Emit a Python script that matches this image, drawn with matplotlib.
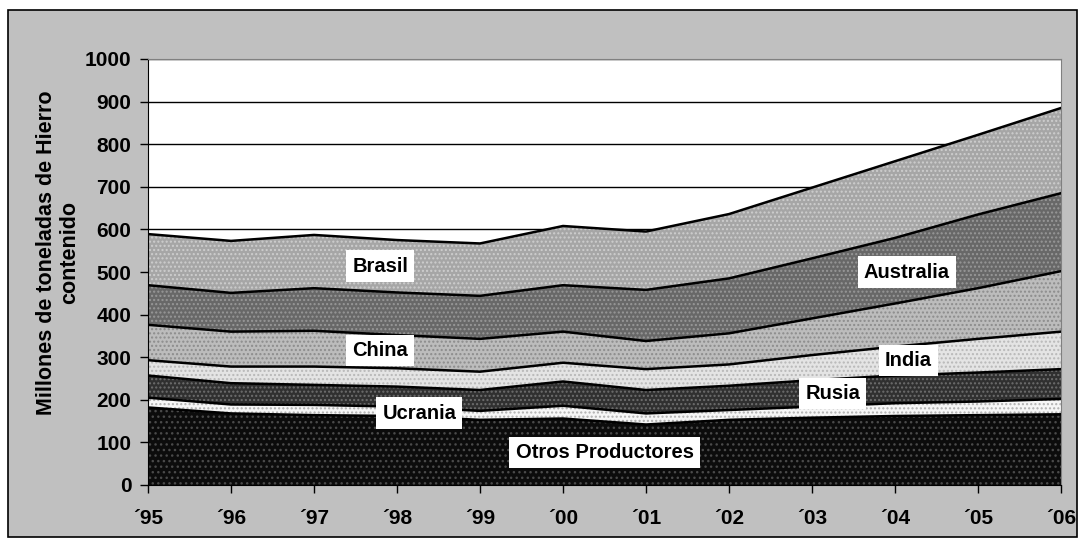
import matplotlib
matplotlib.use("Agg")
import matplotlib.pyplot as plt
import numpy as np
from matplotlib.patches import Rectangle

plt.rcParams["font.family"] = ["Liberation Sans", "DejaVu Sans"]
plt.rcParams["font.weight"] = "bold"
plt.rcParams["hatch.linewidth"] = 1.0

years = ["´95", "´96", "´97", "´98", "´99", "´00", "´01", "´02", "´03", "´04", "´05", "´06"]

# production by producer, millions of tonnes Fe contained (stacked bottom -> top)
otros = [182, 168, 164, 162, 153, 156, 142, 153, 158, 162, 164, 166]
ucrania = [23, 21, 24, 22, 21, 30, 26, 23, 26, 30, 32, 36]
rusia = [52, 50, 47, 47, 49, 57, 55, 57, 62, 65, 68, 70]
india = [36, 39, 43, 43, 43, 44, 49, 50, 59, 68, 79, 88]
china = [83, 82, 84, 78, 77, 73, 66, 73, 86, 101, 119, 142]
australia = [93, 91, 100, 100, 101, 109, 120, 129, 141, 154, 173, 183]
brasil = [120, 122, 125, 123, 123, 139, 137, 151, 166, 180, 187, 200]

series = [otros, ucrania, rusia, india, china, australia, brasil]
# (fill colour, dot colour, hatch)
styles = [
    ("#0c0c0c", "#4a4a4a", "..."),
    ("#f6f6f6", "#b0b0b0", "...."),
    ("#303030", "#6e6e6e", "...."),
    ("#e4e4e4", "#b8b8b8", "...."),
    ("#bcbcbc", "#8c8c8c", "...."),
    ("#686868", "#989898", "...."),
    ("#a6a6a6", "#cecece", "...."),
]

# label text, x position (year index), y position
labels = [
    ("Brasil", 2.8, 514),
    ("China", 2.8, 315),
    ("Ucrania", 3.27, 169),
    ("Otros Productores", 5.5, 77),
    ("Rusia", 8.25, 214),
    ("India", 9.16, 293),
    ("Australia", 9.14, 500),
]

fig = plt.figure(figsize=(10.82, 5.41), dpi=100)
fig.patch.set_facecolor("white")
fig.patches.append(Rectangle((8 / 1082, 1 - 537 / 541), 1069 / 1082, 527 / 541,
                             transform=fig.transFigure, facecolor="#c0c0c0",
                             edgecolor="black", linewidth=1.2, zorder=-5))

ax = fig.add_axes([148 / 1082, 1 - 485 / 541, 913 / 1082, 426 / 541])
ax.set_zorder(2)
ax.set_facecolor("white")

x = np.arange(len(years))
bottom = np.zeros(len(years))
for vals, (fc, dc, hatch) in zip(series, styles):
    top = bottom + np.array(vals)
    ax.fill_between(x, bottom, top, facecolor=fc, edgecolor=dc, hatch=hatch,
                    linewidth=0, zorder=2)
    ax.plot(x, top, color="black", linewidth=1.8, zorder=3)
    bottom = top

for txt, lx, ly in labels:
    ax.text(lx, ly, txt, ha="center", va="center", fontsize=14.5, fontweight="bold",
            zorder=5, bbox=dict(boxstyle="square,pad=0.3", facecolor="white",
                                edgecolor="none"))

ax.set_xlim(0, len(years) - 1)
ax.set_ylim(0, 1000)
ax.set_yticks(np.arange(0, 1001, 100))
ax.set_xticks(x)
ax.set_xticklabels(years)
ax.tick_params(axis="both", labelsize=15, direction="out", length=6, width=1,
               colors="black")
ax.tick_params(axis="x", pad=11)
ax.tick_params(axis="y", pad=6)
for lbl in ax.get_xticklabels() + ax.get_yticklabels():
    lbl.set_fontweight("bold")

ax.yaxis.grid(True, color="black", linewidth=1.0, zorder=1)
ax.set_axisbelow(True)
ax.spines["left"].set_color("black")
ax.spines["bottom"].set_color("black")
ax.spines["top"].set_color("#808080")
ax.spines["right"].set_color("#808080")

fig.text(58 / 1082, 1 - 253 / 541, "Millones de toneladas de Hierro\ncontenido",
         rotation=90, ha="center", va="center", fontsize=15.5, fontweight="bold",
         linespacing=1.1)

fig.savefig("out.png", dpi=100, facecolor=fig.get_facecolor())
